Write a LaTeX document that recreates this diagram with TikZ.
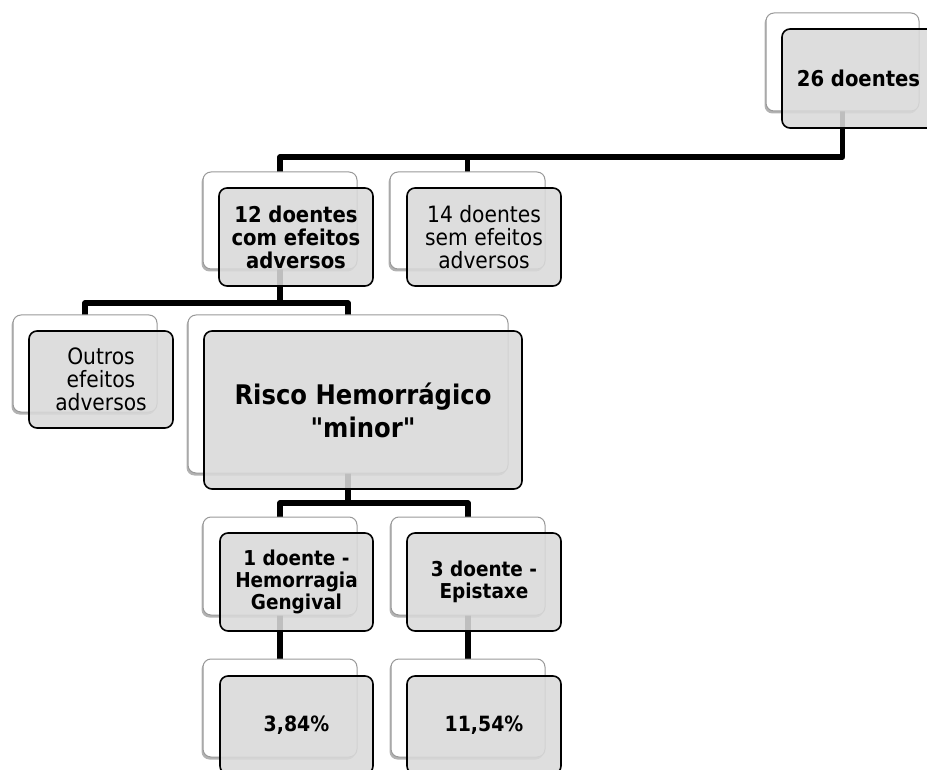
\documentclass[tikz,border=0pt]{standalone}
\usepackage{fontspec}
\setmainfont{DejaVu Sans Condensed}[Ligatures=TeXOff]
\usetikzlibrary{shadows,backgrounds}
\definecolor{frontfill}{HTML}{D9D9D9}
\begin{document}
\begin{tikzpicture}[x=1pt,y=-1pt,
  backbox/.style={draw=black!40, line width=1pt, fill=white, rounded corners=8pt,
    anchor=north west, inner sep=0pt, outer sep=0pt,
    drop shadow={shadow xshift=-1.5pt, shadow yshift=-2.5pt, opacity=0.3, fill=black}},
  frontbox/.style={draw=black, line width=1.6pt, fill=frontfill, fill opacity=0.88,
    text opacity=1, rounded corners=8pt, anchor=north west, inner sep=0pt,
    outer sep=0pt, align=center, font=\fontsize{22.5}{23}\selectfont},
  boldtext/.style={font=\fontsize{21.8}{23}\selectfont\bfseries},
  conn/.style={line width=5.5pt, black, line join=round}]
\useasboundingbox (0,0) rectangle (927,770);
% back boxes
\node[backbox, minimum width=153, minimum height=98] (b26) at (766,13) {};
\node[backbox, minimum width=154, minimum height=97] (b12) at (203,172) {};
\node[backbox, minimum width=155, minimum height=97] (b14) at (390,172) {};
\node[backbox, minimum width=144, minimum height=97] (bout) at (13,315) {};
\node[backbox, minimum width=320, minimum height=158] (brisco) at (188,315) {};
\node[backbox, minimum width=154, minimum height=98] (bgen) at (203,517) {};
\node[backbox, minimum width=154, minimum height=98] (bepi) at (391,517) {};
\node[backbox, minimum width=154, minimum height=98] (bpa) at (203,659) {};
\node[backbox, minimum width=154, minimum height=98] (bpb) at (391,659) {};
% front boxes
\node[frontbox, boldtext, minimum width=153, minimum height=99] (f26) at (782,29) {26 doentes};
\node[frontbox, boldtext, minimum width=154, minimum height=98] (f12) at (219,188) {12 doentes\\com efeitos\\adversos};
\node[frontbox, minimum width=154, minimum height=98] (f14) at (407,188) {14 doentes\\sem efeitos\\adversos};
\node[frontbox, minimum width=144, minimum height=97] (fout) at (29,331) {Outros\\efeitos\\adversos};
\node[frontbox, minimum width=318, minimum height=158, font=\fontsize{27}{33}\selectfont\bfseries] (frisco) at (204,331) {Risco Hemorrágico\\"minor"};
\node[frontbox, minimum width=153, minimum height=98, font=\fontsize{20.5}{22}\selectfont\bfseries] (fgen) at (220,533) {1 doente -\\Hemorragia\\Gengival};
\node[frontbox, minimum width=154, minimum height=98, font=\fontsize{20.5}{22.5}\selectfont\bfseries] (fepi) at (407,533) {3 doente -\\Epistaxe};
\node[frontbox, minimum width=153, minimum height=98, font=\fontsize{21}{23}\selectfont\bfseries] (fpa) at (220,676) {3,84\%};
\node[frontbox, minimum width=154, minimum height=98, font=\fontsize{21}{23}\selectfont\bfseries] (fpb) at (407,676) {11,54\%};
% connectors
\coordinate (j1) at (0,157);
\coordinate (j2) at (0,303);
\coordinate (j3) at (0,503);
\begin{scope}[on background layer]
\draw[conn] (b26.center) -- (b26.center |- j1) -| (b12.center);
\draw[conn] (b26.center |- j1) -| (b14.center);
\draw[conn] (b12.center) -- (b12.center |- j2) -| (bout.center);
\draw[conn] (b12.center |- j2) -| (brisco.center);
\draw[conn] (brisco.center) -- (brisco.center |- j3) -| (bgen.center);
\draw[conn] (brisco.center |- j3) -| (bepi.center);
\draw[conn] (bgen.center) -- (bpa.center);
\draw[conn] (bepi.center) -- (bpb.center);
\end{scope}
\end{tikzpicture}
\end{document}
